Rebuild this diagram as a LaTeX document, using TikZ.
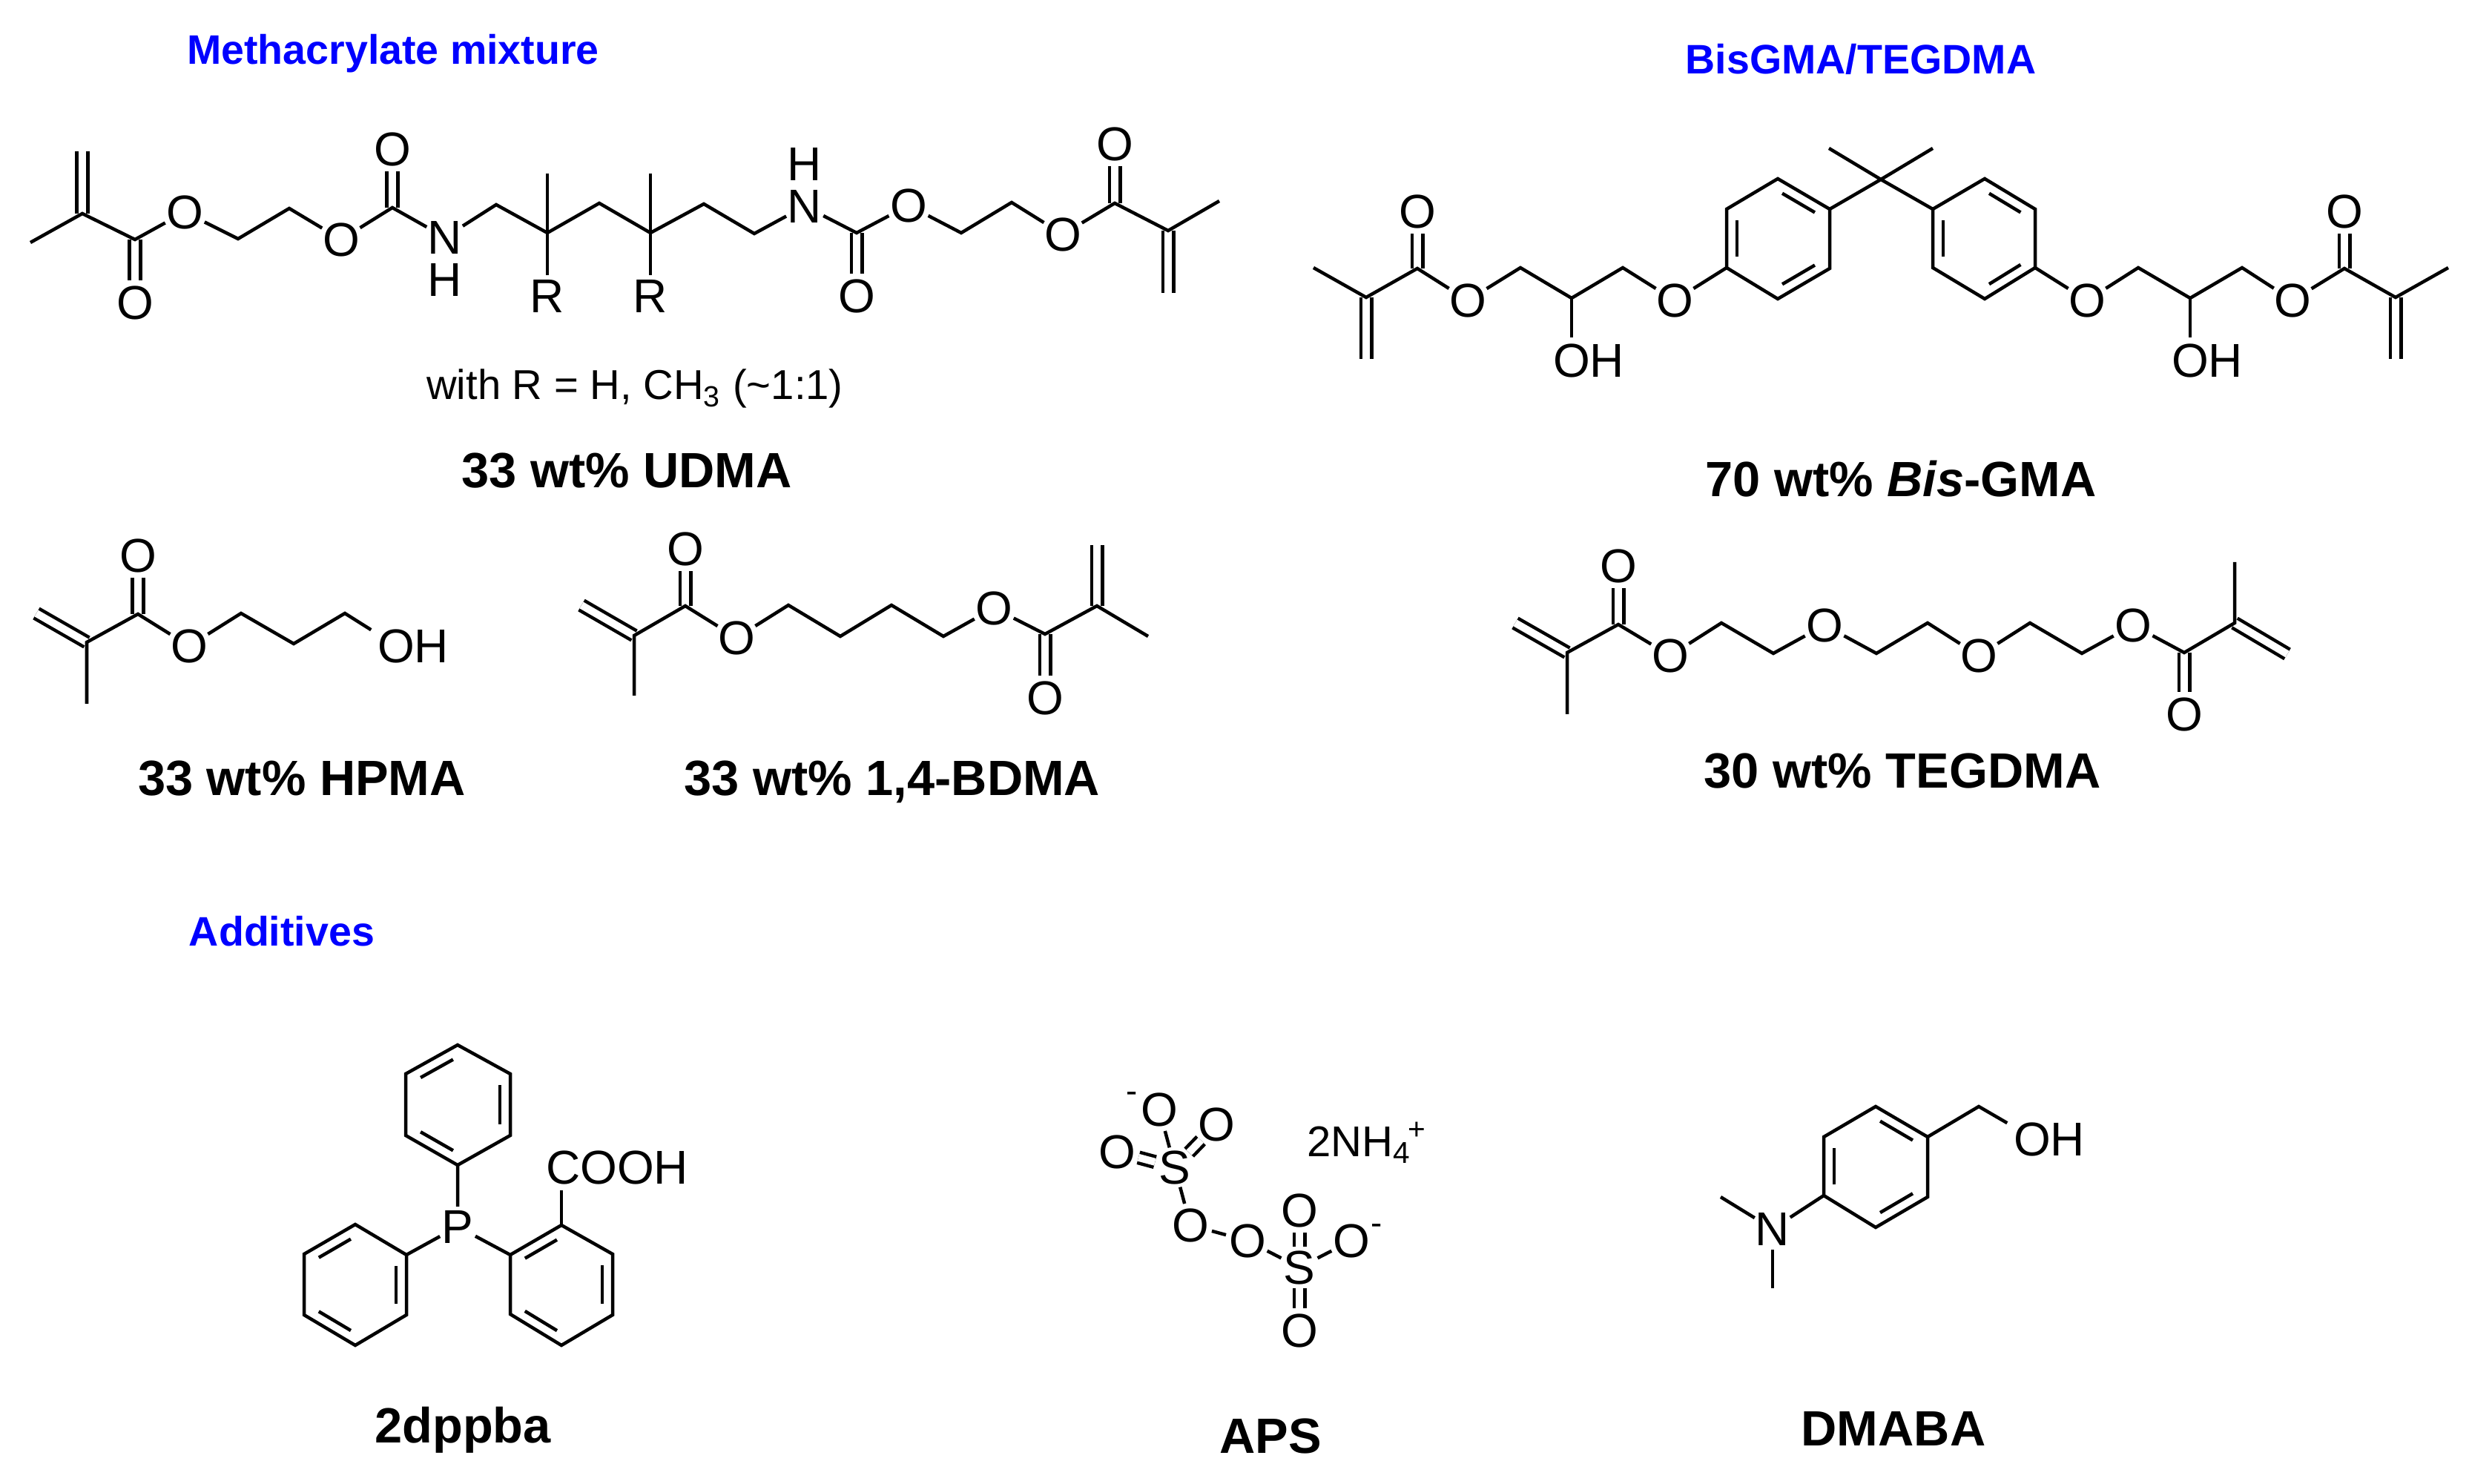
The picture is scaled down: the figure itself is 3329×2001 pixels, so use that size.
\documentclass[tikz,border=0pt]{standalone}
\usepackage{fontspec}
\setmainfont{Liberation Sans}
\usetikzlibrary{calc}
\tikzset{
  atom/.style={circle,inner sep=-.03cm,font=\fontsize{18.2}{20}\selectfont},
  hatom/.style={inner sep=0pt,font=\fontsize{18.2}{20}\selectfont},
  atomgroup/.style={inner sep=.08cm,font=\fontsize{18.2}{20}\selectfont},
  ion/.style={anchor=base west,inner sep=0pt,font=\fontsize{16.5}{20}\selectfont},
  charge/.style={inner sep=0pt,font=\fontsize{13}{15}\selectfont},
  note/.style={anchor=base,inner sep=0pt,font=\fontsize{16}{20}\selectfont},
  molname/.style={anchor=base,inner sep=0pt,font=\bfseries\fontsize{19}{22}\selectfont},
  headline/.style={anchor=base,inner sep=0pt,text=blue,font=\bfseries\fontsize{15.8}{20}\selectfont},
  bond/.style={line width=.045cm},
  dbl/.style={line width=.045cm,double,double distance=.1cm},
  innerbond/.style={line width=.045cm,shorten <=.07cm,shorten >=.07cm}
}
\begin{document}
\begin{tikzpicture}[x=.01cm,y=-.01cm]
  \useasboundingbox (0,0) rectangle (3329,2001);

  \node [headline] (head1) at (530,87) {Methacrylate mixture};
  \node [headline] (head2) at (2509,100) {BisGMA/TEGDMA};
  \node [headline] (head3) at (380,1276) {Additives};

  \coordinate (u1) at (41,327);
  \coordinate (u2) at (111,288);
  \coordinate (u3) at (111,204);
  \coordinate (u4) at (182,323);
  \node [atom] (u5) at (182,408) {O};
  \node [atom] (u6) at (249,286) {O};
  \coordinate (u7) at (321,322);
  \coordinate (u8) at (390,281);
  \node [atom] (u9) at (460,323) {O};
  \coordinate (u10) at (529,280);
  \node [atom] (u11) at (529,201) {O};
  \node [atom] (u12) at (600,320) {N};
  \node [hatom] (u13) at (600,377) {H};
  \coordinate (u14) at (669,276);
  \coordinate (u15) at (738,314);
  \coordinate (u16) at (738,234);
  \node [atom] (u17) at (738,399) {R};
  \coordinate (u18) at (808,274);
  \coordinate (u19) at (877,314);
  \coordinate (u20) at (877,234);
  \node [atom] (u21) at (877,399) {R};
  \coordinate (u22) at (949,275);
  \coordinate (u23) at (1017,315);
  \node [atom] (u24) at (1085,278) {N};
  \node [hatom] (u25) at (1085,221) {H};
  \coordinate (u26) at (1155,314);
  \node [atom] (u27) at (1155,399) {O};
  \node [atom] (u28) at (1225,277) {O};
  \coordinate (u29) at (1296,314);
  \coordinate (u30) at (1364,273);
  \node [atom] (u31) at (1433,316) {O};
  \coordinate (u32) at (1503,274);
  \node [atom] (u33) at (1503,194) {O};
  \coordinate (u34) at (1575,311);
  \coordinate (u35) at (1644,271);
  \coordinate (u36) at (1575,395);
  \draw [dbl] (u2) -- (u3);
  \draw [dbl] (u4) -- (u5);
  \draw [dbl] (u10) -- (u11);
  \draw [dbl] (u26) -- (u27);
  \draw [dbl] (u32) -- (u33);
  \draw [dbl] (u34) -- (u36);
  \draw [bond] (u1) -- (u2) -- (u4) -- (u6) -- (u7) -- (u8) -- (u9) -- (u10) -- (u12) -- (u14) -- (u15) -- (u18) -- (u19) -- (u22) -- (u23) -- (u24) -- (u26) -- (u28) -- (u29) -- (u30) -- (u31) -- (u32) -- (u34) -- (u35);
  \draw [bond] (u16) -- (u15) -- (u17);
  \draw [bond] (u20) -- (u19) -- (u21);
  \node [note] (u37) at (856,539) {with R = H, CH\textsubscript{3} (\textasciitilde1:1)};
  \node [molname] (u38) at (845,658) {33 wt\% UDMA};

  \coordinate (b1) at (1771,361);
  \coordinate (b2) at (1842,401);
  \coordinate (b3) at (1842,484);
  \coordinate (b4) at (1911,362);
  \node [atom] (b5) at (1911,285) {O};
  \node [atom] (b6) at (1979,405) {O};
  \coordinate (b7) at (2050,361);
  \coordinate (b8) at (2119,402);
  \node [atomgroup] (b9) at (2142,486) {OH};
  \coordinate (b10) at (2188,361);
  \node [atom] (b11) at (2258,405) {O};
  \coordinate (b12) at (2328,361);
  \coordinate (b13) at (2328,282);
  \coordinate (b14) at (2397,241);
  \coordinate (b15) at (2467,282);
  \coordinate (b16) at (2467,362);
  \coordinate (b17) at (2397,403);
  \coordinate (b18) at (2397,322);
  \coordinate (b19) at (2536,242);
  \coordinate (b20) at (2466,200);
  \coordinate (b21) at (2606,200);
  \coordinate (b22) at (2606,282);
  \coordinate (b23) at (2676,241);
  \coordinate (b24) at (2744,282);
  \coordinate (b25) at (2744,361);
  \coordinate (b26) at (2676,403);
  \coordinate (b27) at (2606,361);
  \coordinate (b28) at (2676,322);
  \node [atom] (b29) at (2814,405) {O};
  \coordinate (b30) at (2883,361);
  \coordinate (b31) at (2953,402);
  \node [atomgroup] (b32) at (2976,486) {OH};
  \coordinate (b33) at (3023,361);
  \node [atom] (b34) at (3091,405) {O};
  \coordinate (b35) at (3161,362);
  \node [atom] (b36) at (3161,285) {O};
  \coordinate (b37) at (3230,401);
  \coordinate (b38) at (3230,484);
  \coordinate (b39) at (3301,361);
  \draw [dbl] (b2) -- (b3);
  \draw [dbl] (b4) -- (b5);
  \draw [dbl] (b35) -- (b36);
  \draw [dbl] (b37) -- (b38);
  \draw [bond] (b1) -- (b2) -- (b4) -- (b6) -- (b7) -- (b8) -- (b10) -- (b11) -- (b12);
  \draw [bond] (b8) -- (b8 |- b9.north);
  \draw [bond] (b12) -- (b13) -- (b14) -- (b15) -- (b16) -- (b17) -- (b12) -- (b13);
  \draw [bond] (b15) -- (b19) -- (b22);
  \draw [bond] (b20) -- (b19) -- (b21);
  \draw [bond] (b22) -- (b23) -- (b24) -- (b25) -- (b26) -- (b27) -- (b22) -- (b23);
  \draw [bond] (b25) -- (b29) -- (b30) -- (b31) -- (b33) -- (b34) -- (b35) -- (b37) -- (b39);
  \draw [bond] (b31) -- (b31 |- b32.north);
  \foreach \p/\q in {b12/b13,b14/b15,b16/b17}
    \draw [innerbond] ($(b18)!.8!(\p)$) -- ($(b18)!.8!(\q)$);
  \foreach \p/\q in {b22/b27,b23/b24,b25/b26}
    \draw [innerbond] ($(b28)!.8!(\p)$) -- ($(b28)!.8!(\q)$);
  \node [molname] (b40) at (2563,670) {70 wt\% \textit{Bis}-GMA};

  \coordinate (h1) at (49,827);
  \coordinate (h2) at (117,866);
  \coordinate (h3) at (117,949);
  \coordinate (h4) at (186,828);
  \node [atom] (h5) at (186,749) {O};
  \node [atom] (h6) at (255,871) {O};
  \coordinate (h7) at (325,827);
  \coordinate (h8) at (396,868);
  \coordinate (h9) at (465,827);
  \node [atomgroup] (h10) at (557,871) {OH};
  \draw [dbl] (h1) -- (h2);
  \draw [dbl] (h4) -- (h5);
  \draw [bond] (h3) -- (h2) -- (h4) -- (h6) -- (h7) -- (h8) -- (h9) -- (h10.159);
  \node [molname] (h11) at (407,1073) {33 wt\% HPMA};

  \coordinate (d1) at (784,816);
  \coordinate (d2) at (855,857);
  \coordinate (d3) at (855,938);
  \coordinate (d4) at (924,817);
  \node [atom] (d5) at (924,740) {O};
  \node [atom] (d6) at (993,860) {O};
  \coordinate (d7) at (1063,816);
  \coordinate (d8) at (1133,858);
  \coordinate (d9) at (1202,816);
  \coordinate (d10) at (1272,858);
  \node [atom] (d11) at (1340,820) {O};
  \coordinate (d12) at (1409,855);
  \node [atom] (d13) at (1409,941) {O};
  \coordinate (d14) at (1479,817);
  \coordinate (d15) at (1479,735);
  \coordinate (d16) at (1548,858);
  \draw [dbl] (d1) -- (d2);
  \draw [dbl] (d4) -- (d5);
  \draw [dbl] (d12) -- (d13);
  \draw [dbl] (d14) -- (d15);
  \draw [bond] (d3) -- (d2) -- (d4) -- (d6) -- (d7) -- (d8) -- (d9) -- (d10) -- (d11) -- (d12) -- (d14) -- (d16);
  \node [molname] (d17) at (1203,1073) {33 wt\% 1,4-BDMA};

  \coordinate (t1) at (2043,840);
  \coordinate (t2) at (2113,880);
  \coordinate (t3) at (2113,963);
  \coordinate (t4) at (2182,842);
  \node [atom] (t5) at (2182,763) {O};
  \node [atom] (t6) at (2252,884) {O};
  \coordinate (t7) at (2321,840);
  \coordinate (t8) at (2391,881);
  \node [atom] (t9) at (2460,843) {O};
  \coordinate (t10) at (2530,881);
  \coordinate (t11) at (2599,840);
  \node [atom] (t12) at (2668,884) {O};
  \coordinate (t13) at (2737,840);
  \coordinate (t14) at (2807,881);
  \node [atom] (t15) at (2876,843) {O};
  \coordinate (t16) at (2945,880);
  \node [atom] (t17) at (2945,963) {O};
  \coordinate (t18) at (3013,840);
  \coordinate (t19) at (3013,758);
  \coordinate (t20) at (3084,882);
  \draw [dbl] (t1) -- (t2);
  \draw [dbl] (t4) -- (t5);
  \draw [dbl] (t16) -- (t17);
  \draw [dbl] (t18) -- (t20);
  \draw [bond] (t3) -- (t2) -- (t4) -- (t6) -- (t7) -- (t8) -- (t9) -- (t10) -- (t11) -- (t12) -- (t13) -- (t14) -- (t15) -- (t16) -- (t18) -- (t19);
  \node [molname] (t21) at (2565,1063) {30 wt\% TEGDMA};

  \coordinate (p1) at (617,1409);
  \coordinate (p2) at (688,1448);
  \coordinate (p3) at (688,1531);
  \coordinate (p4) at (617,1571);
  \coordinate (p5) at (547,1531);
  \coordinate (p6) at (547,1448);
  \coordinate (p7) at (617,1490);
  \node [atom] (p8) at (617,1654) {P};
  \coordinate (p9) at (479,1651);
  \coordinate (p10) at (548,1692);
  \coordinate (p11) at (548,1773);
  \coordinate (p12) at (479,1814);
  \coordinate (p13) at (410,1773);
  \coordinate (p14) at (410,1691);
  \coordinate (p15) at (479,1732);
  \coordinate (p16) at (757,1652);
  \coordinate (p17) at (826,1691);
  \coordinate (p18) at (826,1773);
  \coordinate (p19) at (757,1814);
  \coordinate (p20) at (688,1772);
  \coordinate (p21) at (688,1692);
  \coordinate (p22) at (757,1733);
  \node [atomgroup] (p23) at (832,1574) {COOH};
  \draw [bond] (p1) -- (p2) -- (p3) -- (p4) -- (p5) -- (p6) -- (p1) -- (p2);
  \draw [bond] (p9) -- (p10) -- (p11) -- (p12) -- (p13) -- (p14) -- (p9) -- (p10);
  \draw [bond] (p16) -- (p17) -- (p18) -- (p19) -- (p20) -- (p21) -- (p16) -- (p17);
  \draw [bond] (p4) -- (p8) -- (p10);
  \draw [bond] (p8) -- (p21);
  \draw [bond] (p16) -- (p16 |- p23.south);
  \foreach \p/\q in {p1/p6,p2/p3,p4/p5}
    \draw [innerbond] ($(p7)!.8!(\p)$) -- ($(p7)!.8!(\q)$);
  \foreach \p/\q in {p9/p14,p10/p11,p12/p13}
    \draw [innerbond] ($(p15)!.8!(\p)$) -- ($(p15)!.8!(\q)$);
  \foreach \p/\q in {p16/p21,p17/p18,p19/p20}
    \draw [innerbond] ($(p22)!.8!(\p)$) -- ($(p22)!.8!(\q)$);
  \node [molname] (p24) at (624,1945) {2dppba};

  \node [atom] (s1) at (1563,1496) {O};
  \node [charge] (s2) at (1526,1480) {-};
  \node [atom] (s3) at (1640,1516) {O};
  \node [atom] (s4) at (1506,1553) {O};
  \node [atom] (s5) at (1584,1574) {S};
  \node [atom] (s6) at (1605,1652) {O};
  \node [atom] (s7) at (1682,1673) {O};
  \node [atom] (s8) at (1752,1709) {S};
  \node [atom] (s9) at (1752,1632) {O};
  \node [atom] (s10) at (1822,1673) {O};
  \node [charge] (s11) at (1856,1658) {-};
  \node [atom] (s12) at (1752,1794) {O};
  \node [ion] (s13) at (1762,1559) {2NH\textsubscript{4}\kern-.05cm\textsuperscript{+}};
  \draw [dbl] (s5) -- (s3);
  \draw [dbl] (s5) -- (s4);
  \draw [dbl] (s8) -- (s9);
  \draw [dbl] (s8) -- (s12);
  \draw [bond] (s1) -- (s5) -- (s6) -- (s7) -- (s8) -- (s10);
  \node [molname] (s14) at (1713,1959) {APS};

  \coordinate (m1) at (2529,1492);
  \coordinate (m2) at (2599,1533);
  \coordinate (m3) at (2599,1614);
  \coordinate (m4) at (2529,1655);
  \coordinate (m5) at (2459,1612);
  \coordinate (m6) at (2459,1533);
  \coordinate (m7) at (2529,1573);
  \coordinate (m8) at (2668,1492);
  \node [atomgroup] (m9) at (2763,1536) {OH};
  \node [atom] (m10) at (2390,1657) {N};
  \coordinate (m11) at (2320,1614);
  \coordinate (m12) at (2390,1737);
  \draw [bond] (m1) -- (m2) -- (m3) -- (m4) -- (m5) -- (m6) -- (m1) -- (m2);
  \draw [bond] (m2) -- (m8) -- (m9.159);
  \draw [bond] (m5) -- (m10) -- (m11);
  \draw [bond] (m10) -- (m12);
  \foreach \p/\q in {m1/m2,m3/m4,m5/m6}
    \draw [innerbond] ($(m7)!.8!(\p)$) -- ($(m7)!.8!(\q)$);
  \node [molname] (m13) at (2553,1949) {DMABA};
\end{tikzpicture}
\end{document}
